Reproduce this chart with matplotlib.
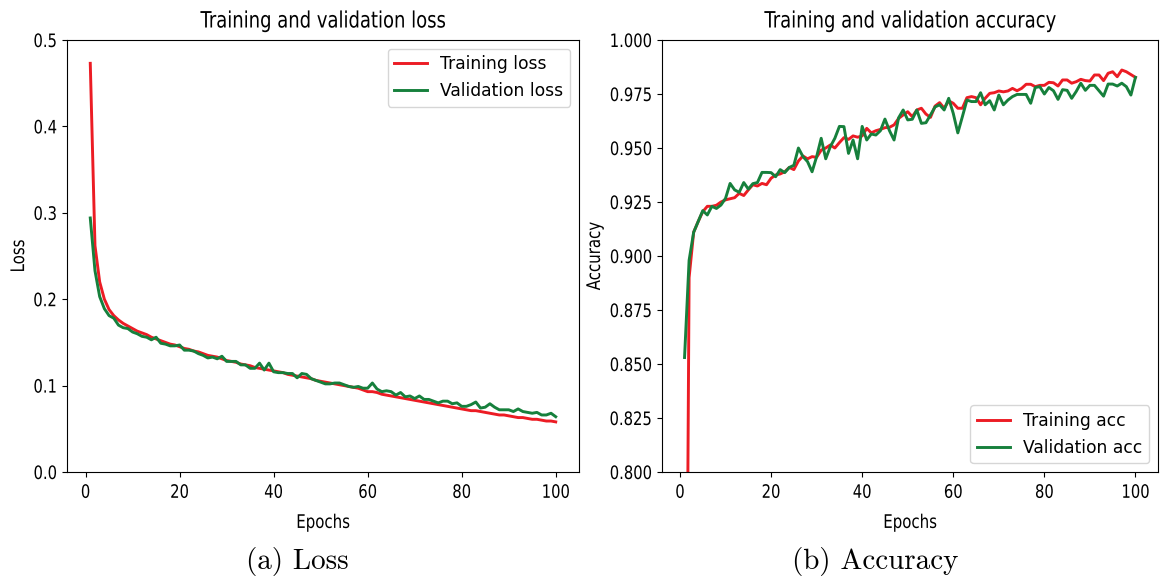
import numpy as np
import matplotlib
matplotlib.use('Agg')
import matplotlib.pyplot as plt
from matplotlib.patheffects import AbstractPathEffect
from matplotlib.transforms import Affine2D

epochs = list(range(1, 101))

train_loss = [0.473, 0.262, 0.220, 0.200, 0.188, 0.181, 0.176, 0.172, 0.169, 0.166,
              0.163, 0.161, 0.159, 0.156, 0.154, 0.152, 0.150, 0.148, 0.147, 0.145,
              0.143, 0.142, 0.140, 0.139, 0.137, 0.135, 0.134, 0.133, 0.131, 0.129,
              0.128, 0.127, 0.125, 0.124, 0.123, 0.121, 0.120, 0.119, 0.118, 0.117,
              0.116, 0.115, 0.113, 0.112, 0.111, 0.110, 0.109, 0.108, 0.106, 0.105,
              0.104, 0.103, 0.102, 0.101, 0.100, 0.099, 0.098, 0.097, 0.095, 0.093,
              0.093, 0.092, 0.090, 0.089, 0.088, 0.087, 0.086, 0.085, 0.084, 0.083,
              0.082, 0.081, 0.080, 0.079, 0.078, 0.077, 0.076, 0.075, 0.074, 0.073,
              0.072, 0.071, 0.071, 0.070, 0.069, 0.068, 0.067, 0.066, 0.066, 0.065,
              0.064, 0.063, 0.063, 0.062, 0.061, 0.061, 0.060, 0.059, 0.059, 0.058]

val_loss = [0.294, 0.233, 0.203, 0.189, 0.181, 0.178, 0.170, 0.167, 0.166, 0.162,
            0.160, 0.157, 0.156, 0.153, 0.156, 0.149, 0.148, 0.146, 0.146, 0.147,
            0.141, 0.141, 0.140, 0.137, 0.135, 0.132, 0.133, 0.131, 0.134, 0.128,
            0.128, 0.128, 0.124, 0.124, 0.120, 0.120, 0.126, 0.118, 0.126, 0.116,
            0.115, 0.115, 0.114, 0.114, 0.109, 0.114, 0.113, 0.108, 0.106, 0.104,
            0.102, 0.102, 0.103, 0.103, 0.101, 0.099, 0.098, 0.099, 0.097, 0.097,
            0.103, 0.096, 0.093, 0.094, 0.093, 0.089, 0.092, 0.087, 0.088, 0.085,
            0.088, 0.084, 0.084, 0.082, 0.080, 0.082, 0.082, 0.079, 0.080, 0.076,
            0.076, 0.078, 0.081, 0.074, 0.075, 0.079, 0.075, 0.072, 0.072, 0.072,
            0.070, 0.073, 0.070, 0.069, 0.068, 0.069, 0.066, 0.066, 0.068, 0.064]

train_acc = [0.550, 0.890, 0.911, 0.916, 0.9205, 0.923, 0.923, 0.9235, 0.925, 0.926,
             0.9265, 0.927, 0.929, 0.928, 0.9306, 0.933, 0.9324, 0.9336, 0.933, 0.936,
             0.9375, 0.938, 0.939, 0.941, 0.940, 0.944, 0.9463, 0.945, 0.946, 0.9457,
             0.949, 0.950, 0.9514, 0.950, 0.9525, 0.9548, 0.954, 0.9556, 0.955, 0.9556,
             0.9591, 0.957, 0.958, 0.9586, 0.9594, 0.9596, 0.9607, 0.9637, 0.9653, 0.9668,
             0.9645, 0.9676, 0.9684, 0.9657, 0.9642, 0.9694, 0.971, 0.9684, 0.9718, 0.9707,
             0.9684, 0.9684, 0.9733, 0.9738, 0.9733, 0.970, 0.973, 0.9753, 0.9756, 0.9764,
             0.976, 0.9764, 0.9776, 0.9765, 0.9776, 0.9795, 0.9795, 0.9784, 0.979, 0.979,
             0.9804, 0.9802, 0.9787, 0.9815, 0.9815, 0.980, 0.9807, 0.9818, 0.9812, 0.981,
             0.9838, 0.9838, 0.9812, 0.9846, 0.9853, 0.983, 0.9861, 0.9853, 0.984, 0.9827]

val_acc = [0.853, 0.898, 0.911, 0.916, 0.921, 0.919, 0.923, 0.922, 0.9236, 0.9267,
           0.9336, 0.9306, 0.9295, 0.934, 0.931, 0.9335, 0.934, 0.9387, 0.9387, 0.9386,
           0.9367, 0.940, 0.9386, 0.941, 0.942, 0.950, 0.946, 0.9437, 0.939, 0.946,
           0.9545, 0.945, 0.9506, 0.9545, 0.960, 0.9599, 0.9475, 0.9537, 0.945, 0.960,
           0.9537, 0.9565, 0.956, 0.958, 0.9634, 0.958, 0.9537, 0.964, 0.9676, 0.963,
           0.9633, 0.9676, 0.9614, 0.9617, 0.9653, 0.969, 0.970, 0.9676, 0.973, 0.966,
           0.957, 0.9645, 0.9722, 0.9715, 0.9715, 0.9756, 0.970, 0.9719, 0.9676, 0.9745,
           0.970, 0.9722, 0.9738, 0.9748, 0.9748, 0.9748, 0.9707, 0.978, 0.9784, 0.975,
           0.978, 0.9765, 0.9725, 0.977, 0.9767, 0.973, 0.9762, 0.980, 0.9767, 0.979,
           0.979, 0.9765, 0.974, 0.9796, 0.9796, 0.9787, 0.980, 0.9784, 0.9745, 0.9827]

RED = '#ec1c24'
GREEN = '#16803c'


class Squeeze(AbstractPathEffect):
    """Draw text glyphs narrower, keeping the left/center/right edge in place."""

    def __init__(self, sx=0.8, anchor='center'):
        super().__init__()
        self.sx = sx
        self.anchor = anchor

    def draw_path(self, renderer, gc, tpath, affine, rgbFace=None):
        ext = tpath.get_extents()
        x0 = {'left': ext.x0, 'center': 0.5 * (ext.x0 + ext.x1), 'right': ext.x1}[self.anchor]
        narrow = Affine2D().translate(-x0, 0).scale(self.sx, 1).translate(x0, 0)
        renderer.draw_path(gc, tpath, narrow + affine, rgbFace)


plt.rcParams['font.family'] = ['DejaVu Sans']
tick_fs = 13.3
label_fs = 13.5
title_fs = 16.2
leg_fs = 12.3

fig = plt.figure(figsize=(11.61, 5.79), dpi=100)
ax1 = fig.add_axes([67 / 1161, 1 - 472 / 579, 512 / 1161, 432 / 579])
ax2 = fig.add_axes([662 / 1161, 1 - 472 / 579, 496 / 1161, 432 / 579])

ax1.plot(epochs, train_loss, color=RED, lw=2.1, label='Training loss')
ax1.plot(epochs, val_loss, color=GREEN, lw=2.1, label='Validation loss')
ax1.set_ylim(0, 0.5)
ax1.set_yticks([0.0, 0.1, 0.2, 0.3, 0.4, 0.5])
ax1.set_title('Training and validation loss', fontsize=title_fs, pad=9)
ax1.set_xlabel('Epochs', fontsize=label_fs, labelpad=8)
ax1.set_ylabel('Loss', fontsize=label_fs)
ax1.yaxis.set_label_coords(-0.076, 0.5)
ax1.legend(loc='upper right', fontsize=leg_fs, handlelength=1.9)

ax2.plot(epochs, train_acc, color=RED, lw=2.1, label='Training acc')
ax2.plot(epochs, val_acc, color=GREEN, lw=2.1, label='Validation acc')
ax2.set_ylim(0.8, 1.0)
ax2.set_yticks(np.arange(0.8, 1.0001, 0.025))
ax2.yaxis.set_major_formatter(matplotlib.ticker.FormatStrFormatter('%.3f'))
ax2.set_title('Training and validation accuracy', fontsize=title_fs, pad=9)
ax2.set_xlabel('Epochs', fontsize=label_fs, labelpad=8)
ax2.set_ylabel('Accuracy', fontsize=label_fs)
ax2.yaxis.set_label_coords(-0.117, 0.5)
ax2.legend(loc='lower right', fontsize=leg_fs, handlelength=1.9)

for ax in (ax1, ax2):
    ax.set_xlim(-3.95, 104.95)
    ax.set_xticks([0, 20, 40, 60, 80, 100])
    ax.tick_params(labelsize=tick_fs)
    ax.tick_params(axis='x', pad=5)
    for lab in ax.get_xticklabels():
        lab.set_path_effects([Squeeze(0.8, 'center')])
    for lab in ax.get_yticklabels():
        lab.set_path_effects([Squeeze(0.8, 'right')])
    ax.title.set_path_effects([Squeeze(0.8, 'center')])
    ax.xaxis.label.set_path_effects([Squeeze(0.8, 'center')])
    ax.yaxis.label.set_path_effects([Squeeze(0.8, 'center')])

fig.text(297 / 1161, 1 - 562 / 579, '(a) Loss', ha='center', va='center',
         family='cmr10', fontsize=21)
fig.text(875 / 1161, 1 - 562 / 579, '(b) Accuracy', ha='center', va='center',
         family='cmr10', fontsize=21)

fig.savefig('out.png', dpi=100)
